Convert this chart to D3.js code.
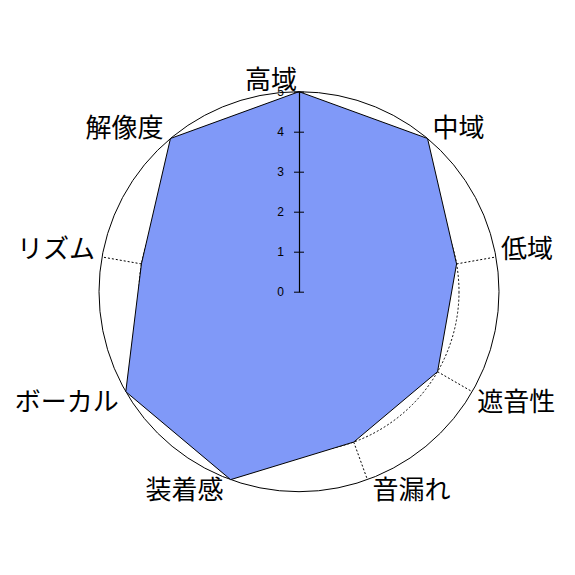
<!DOCTYPE html>
<html>
<head>
<meta charset="utf-8">
<script src="https://cdn.jsdelivr.net/npm/d3@7"></script>
<style>
  html, body { margin: 0; padding: 0; background: #fff; }
  svg { display: block; }
</style>
</head>
<body>
<svg id="chart" width="575" height="575"></svg>
<script>
const axesLabels = ["高域","中域","低域","遮音性","音漏れ","装着感","ボーカル","リズム","解像度"];
const seriesValues = [5, 5, 4, 4, 4, 5, 5, 4, 5];
const tickValues = [0, 1, 2, 3, 4, 5];
const gridLevels = [1, 2, 3, 4];

const W = 575, H = 575;
const cx = 299, cy = 291.7, R = 200;

const svg = d3.select("#chart");
const g = svg.append("g").attr("transform", `translate(${cx},${cy})`);

const r = d3.scaleLinear().domain([0, 5]).range([0, R]);
const ang = d3.scaleLinear().domain([0, axesLabels.length]).range([0, 2 * Math.PI]);

// dotted grid circles
g.selectAll("circle.grid").data(gridLevels).enter().append("circle")
  .attr("class", "grid")
  .attr("r", d => r(d))
  .attr("fill", "none").attr("stroke", "#000").attr("stroke-width", 1)
  .attr("stroke-dasharray", "2,2");

// dotted radial axis lines
g.selectAll("line.spoke").data(axesLabels).enter().append("line")
  .attr("class", "spoke")
  .attr("x1", 0).attr("y1", 0)
  .attr("x2", (d, i) => r(5) * Math.sin(ang(i)))
  .attr("y2", (d, i) => -r(5) * Math.cos(ang(i)))
  .attr("stroke", "#000").attr("stroke-width", 1)
  .attr("stroke-dasharray", "2,2");

// outer circle
g.append("circle").attr("r", r(5))
  .attr("fill", "none").attr("stroke", "#000").attr("stroke-width", 1);

// data polygon
const radial = d3.lineRadial()
  .angle((d, i) => ang(i))
  .radius(d => r(d))
  .curve(d3.curveLinearClosed);

g.append("path").datum(seriesValues)
  .attr("d", radial)
  .attr("fill", "#8099f8")
  .attr("stroke", "#000").attr("stroke-width", 1);

// vertical value axis
const yScale = d3.scaleLinear().domain([0, 5]).range([0, -R]);
const yAxis = d3.axisLeft(yScale).tickValues(tickValues).tickFormat(d3.format("d"))
  .tickSizeInner(5).tickSizeOuter(0).tickPadding(10);
const ag = g.append("g").call(yAxis);
ag.select(".domain").attr("stroke", "#000").attr("stroke-width", 1.2);
ag.selectAll(".tick line").attr("x1", 5).attr("stroke", "#000");
ag.selectAll(".tick text")
  .attr("font-family", "'Liberation Sans', Arial, sans-serif")
  .attr("font-size", 12).attr("fill", "#000");

// axis labels
g.selectAll("text.lab").data(axesLabels).enter().append("text")
  .attr("class", "lab")
  .each(function (d, i) {
    const a = ang(i);
    const s = Math.sin(a), c = Math.cos(a);
    const px = r(5) * s, py = -r(5) * c;
    let anchor, x;
    if (s > 0.01) { anchor = "start"; x = px + 5; }
    else if (s < -0.01) { anchor = "end"; x = px - 7; }
    else { anchor = "end"; x = px - 2; }
    const y = c > 0 ? py - 10 - 4 * c : py + 7.5;
    d3.select(this)
      .attr("x", x).attr("y", y)
      .attr("text-anchor", anchor)
      .attr("dominant-baseline", "central");
  })
  .attr("font-family", "'Noto Sans CJK JP', sans-serif")
  .attr("font-size", 26)
  .attr("fill", "#000")
  .text(d => d);
</script>
</body>
</html>
